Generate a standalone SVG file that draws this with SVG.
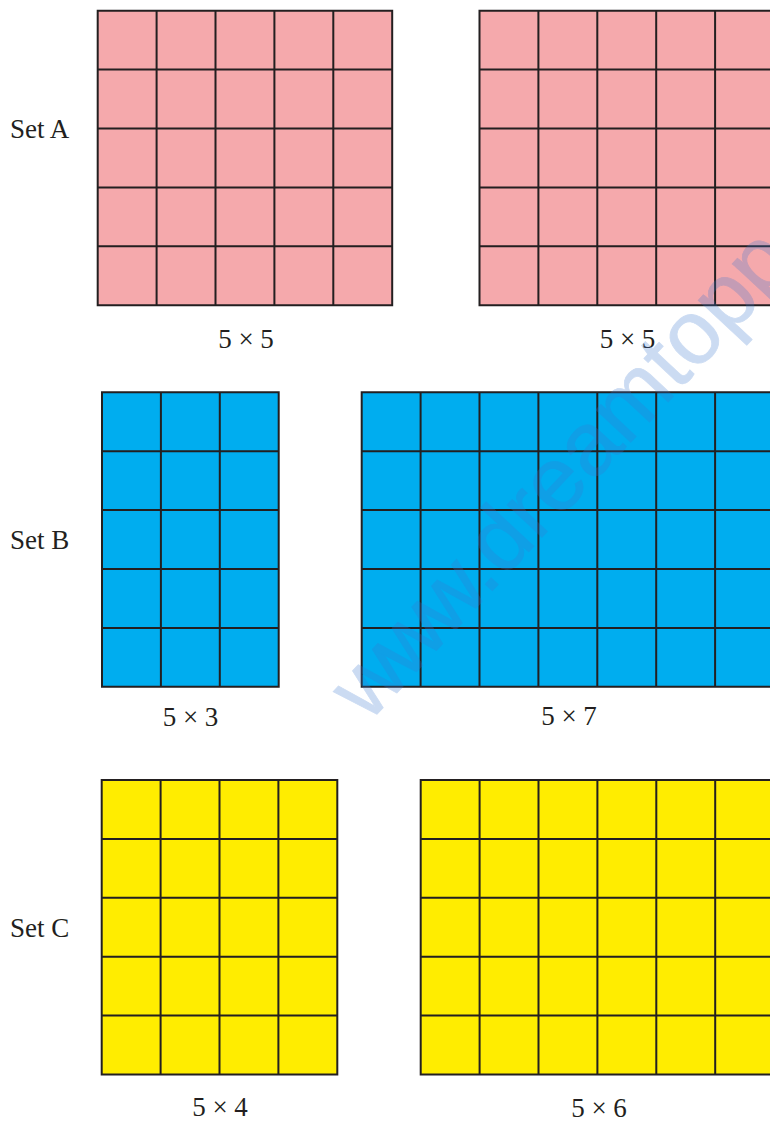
<svg xmlns="http://www.w3.org/2000/svg" width="770" height="1124" viewBox="0 0 770 1124">
<style>
.pink{fill:#f5a9ac}
.blue{fill:#00adef}
.yellow{fill:#ffed00}
.grid{stroke:#231f20;stroke-width:2;fill:none}
.lbl{font-family:"Liberation Serif","Times New Roman",serif;font-size:27px;fill:#231f20}
.mid{text-anchor:middle}
.wm{font-family:"Liberation Sans",Arial,sans-serif;font-size:90px;fill:#3b78d0;stroke:#3b78d0;stroke-width:0.8}
</style>
<rect width="770" height="1124" fill="#ffffff"/>
<g id="setA-label"><text class="lbl" x="10" y="138">Set A</text></g>
<g id="setB-label"><text class="lbl" x="10" y="549">Set B</text></g>
<g id="setC-label"><text class="lbl" x="10" y="937">Set C</text></g>

<g id="gridA1">
<rect class="pink" x="97.7" y="10.7" width="294.5" height="294.5"/>
<path class="grid" d="M97.7 10.7H392.2V305.2H97.7Z M156.6 10.7V305.2 M215.5 10.7V305.2 M274.4 10.7V305.2 M333.3 10.7V305.2 M97.7 69.6H392.2 M97.7 128.5H392.2 M97.7 187.4H392.2 M97.7 246.3H392.2"/>
<text class="lbl mid" x="246" y="348">5 × 5</text>
</g>

<g id="gridA2">
<rect class="pink" x="479.5" y="10.7" width="294.5" height="294.5"/>
<path class="grid" d="M479.5 10.7H774V305.2H479.5Z M538.4 10.7V305.2 M597.3 10.7V305.2 M656.2 10.7V305.2 M715.1 10.7V305.2 M479.5 69.6H774 M479.5 128.5H774 M479.5 187.4H774 M479.5 246.3H774"/>
<text class="lbl mid" x="627.5" y="348">5 × 5</text>
</g>

<g id="gridB1">
<rect class="blue" x="102" y="392.3" width="176.7" height="294.5"/>
<path class="grid" d="M102 392.3H278.7V686.8H102Z M160.9 392.3V686.8 M219.8 392.3V686.8 M102 451.2H278.7 M102 510.1H278.7 M102 569H278.7 M102 627.9H278.7"/>
<text class="lbl mid" x="190.5" y="726">5 × 3</text>
</g>

<g id="gridB2">
<rect class="blue" x="361.7" y="392.3" width="412.3" height="294.5"/>
<path class="grid" d="M361.7 392.3H774V686.8H361.7Z M420.6 392.3V686.8 M479.5 392.3V686.8 M538.4 392.3V686.8 M597.3 392.3V686.8 M656.2 392.3V686.8 M715.1 392.3V686.8 M361.7 451.2H774 M361.7 510.1H774 M361.7 569H774 M361.7 627.9H774"/>
<text class="lbl mid" x="569" y="725">5 × 7</text>
</g>

<g id="gridC1">
<rect class="yellow" x="101.7" y="780" width="235.6" height="294.5"/>
<path class="grid" d="M101.7 780H337.3V1074.5H101.7Z M160.6 780V1074.5 M219.5 780V1074.5 M278.4 780V1074.5 M101.7 838.9H337.3 M101.7 897.8H337.3 M101.7 956.7H337.3 M101.7 1015.6H337.3"/>
<text class="lbl mid" x="220" y="1116">5 × 4</text>
</g>

<g id="gridC2">
<rect class="yellow" x="420.7" y="780" width="353.4" height="294.5"/>
<path class="grid" d="M420.7 780H774.1V1074.5H420.7Z M479.6 780V1074.5 M538.5 780V1074.5 M597.4 780V1074.5 M656.3 780V1074.5 M715.2 780V1074.5 M420.7 838.9H774.1 M420.7 897.8H774.1 M420.7 956.7H774.1 M420.7 1015.6H774.1"/>
<text class="lbl mid" x="599" y="1117">5 × 6</text>
</g>

<g id="watermark" opacity="0.26">
<text class="wm" transform="translate(368 724) rotate(-47)"><tspan letter-spacing="-7">www</tspan>.dreamtopp</text>
</g>
</svg>
